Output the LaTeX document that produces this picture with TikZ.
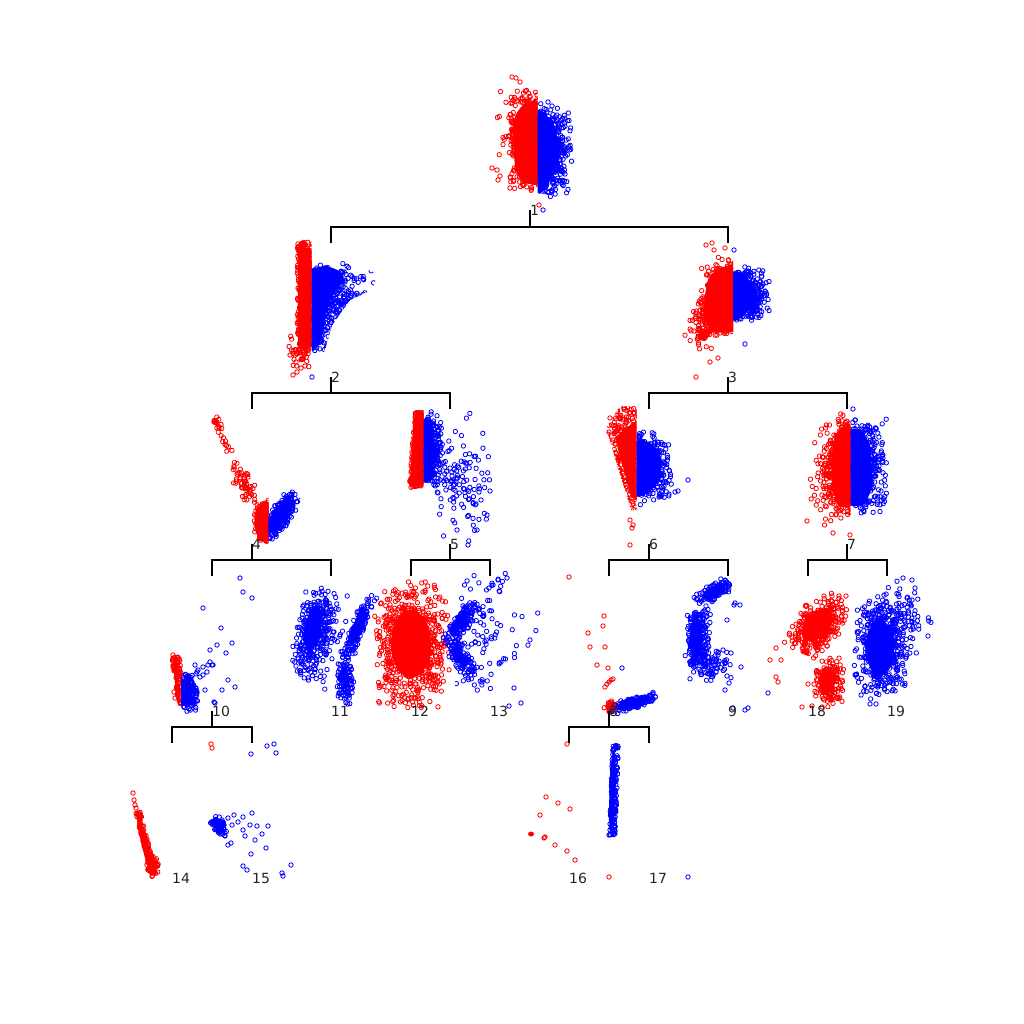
\documentclass[tikz,border=0pt]{standalone}
\usepackage{fontspec}
\setmainfont{DejaVu Sans}
% marker = 2-arc circle of radius 2.2 drawn to the right of the random point
\def\mkpath{.. controls +(0,2.93) and +(0,2.93) .. ++(4.4,0) .. controls +(0,-2.93) and +(0,-2.93) .. ++(-4.4,0)}
% gaussian cloud: [rotation]{colour}{cx}{cy}{sx}{sy}{N}
\newcommand\gcl[7][0]{\begin{scope}[shift={(#3,#4)},rotate=#1]\pgfmathtruncatemacro\nch{ceil(#7/40)}\foreach \j in {1,...,\nch}{\draw[#2,mk] foreach \i in {1,...,40}{({#5*(rand+rand+rand)-2.2},{#6*(rand+rand+rand)}) \mkpath};}\end{scope}}
% triangular cloud: half ranges
\newcommand\tcl[7][0]{\begin{scope}[shift={(#3,#4)},rotate=#1]\pgfmathtruncatemacro\nch{ceil(#7/40)}\foreach \j in {1,...,\nch}{\draw[#2,mk] foreach \i in {1,...,40}{({#5*(rand+rand)/2-2.2},{#6*(rand+rand)/2}) \mkpath};}\end{scope}}
% folded triangular cloud (dense at the split line x=cx, extends by sx, sign gives side)
\newcommand\fcl[7][0]{\begin{scope}[shift={(#3,#4)},rotate=#1]\pgfmathtruncatemacro\nch{ceil(#7/40)}\foreach \j in {1,...,\nch}{\draw[#2,mk] foreach \i in {1,...,40}{({#5*abs(rand+rand)/2-2.2},{#6*(rand+rand)/2}) \mkpath};}\end{scope}}
\newcommand\ucl[7][0]{\begin{scope}[shift={(#3,#4)},rotate=#1]\pgfmathtruncatemacro\nch{ceil(#7/40)}\foreach \j in {1,...,\nch}{\draw[#2,mk] foreach \i in {1,...,40}{({#5*rand-2.2},{#6*rand}) \mkpath};}\end{scope}}
\newcommand\pts[2]{\draw[#1,mk] foreach \px/\py in {#2}{(\px,\py) circle[radius=2.2pt]};}
\newcommand\core[6][0]{\fill[#2,rotate around={#1:(#3,#4)}] (#3,#4) ellipse[x radius=#5pt,y radius=#6pt];}
\tikzset{mk/.style={line width=0.8pt},
 br/.style={line width=1.2pt,black},
 brt/.style={line width=2.4pt,black},
 lab/.style={anchor=west,inner sep=0pt,font=\fontsize{14}{16}\selectfont,text=black!85}}
\begin{document}
\begin{tikzpicture}[x=1pt,y=-1pt]
\pgfmathsetseed{4711}
\fill[white] (0,0) rectangle (1024,1024);
\useasboundingbox (0,0) rectangle (1024,1024);
% ---------- node 1
\begin{scope}\clip (480,60) rectangle (537.5,220);
\fill[red,rounded corners=4pt] (538,100) -- (524,103) -- (515,115) -- (513,140) -- (515,168) -- (521,182) -- (538,186) -- cycle;
\fcl{red}{539.7}{142}{-34}{52}{450}
\gcl{red}{522}{130}{10}{22}{60}
\pts{red}{512/77, 516/78, 520/82, 497/170, 492/168, 500/176, 498/180, 510/188}
\end{scope}
\begin{scope}\clip (537.5,60) rectangle (600,220);
\fill[blue,rounded corners=4pt] (537,108) -- (548,116) -- (557,135) -- (560,155) -- (553,176) -- (543,192) -- (537,195) -- cycle;
\fcl{blue}{539.7}{152}{33}{50}{420}
\end{scope}
\pts{blue}{543/210, 548/102, 552/106}
\pts{red}{539/205}
% ---------- node 2
\begin{scope}\clip (280,230) rectangle (311.5,385);
\fill[red,rounded corners=3pt] (298,248) -- (312,248) -- (312,348) -- (298,348) -- cycle;
\ucl{red}{305.2}{296}{8}{54}{260}
\gcl{red}{301}{352}{5}{9}{25}
\end{scope}
\pts{red}{293/375, 297/372, 301/368, 296/362, 305/366, 290/355}
\begin{scope}\clip (311.5,258) -- (350,262) -- (378,274) -- (372,290) -- (350,300) -- (332,325) -- (322,360) -- (311.5,360) -- cycle;
\fill[blue,rounded corners=4pt] (310,268) -- (328,266) -- (342,272) -- (345,280) -- (334,292) -- (326,312) -- (322,338) -- (316,350) -- (310,352) -- cycle;
\fcl{blue}{313.7}{308}{62}{50}{420}
\end{scope}
\pts{blue}{312/377}
% ---------- node 3
\begin{scope}\clip (680,230) rectangle (733,385);
\fill[red,rounded corners=4pt] (734,265) -- (718,268) -- (708,278) -- (704,300) -- (705,320) -- (712,333) -- (734,332) -- cycle;
\fcl{red}{735.2}{298}{-38}{42}{420}
\gcl{red}{704}{330}{8}{9}{50}
\end{scope}
\pts{red}{696/377, 710/362, 718/358, 706/245, 712/243, 714/250, 725/248}
\begin{scope}\clip (733,230) rectangle (790,385);
\fill[blue,rounded corners=4pt] (732,270) -- (744,274) -- (756,288) -- (758,300) -- (748,311) -- (739,320) -- (732,322) -- cycle;
\fcl{blue}{735.2}{294}{35}{28}{300}
\end{scope}
\pts{blue}{745/344, 734/250}
% ---------- node 4
\ucl[-66]{red}{232}{456}{48}{3}{30}
\gcl[-66]{red}{245}{487}{10}{4}{35}
\begin{scope}\clip (240,480) rectangle (268.5,550);
\fill[red,rounded corners=3pt] (256,507) -- (269,501) -- (269,540) -- (259,542) -- (254,525) -- cycle;
\fcl{red}{270.7}{521}{-18}{22}{200}
\end{scope}
\begin{scope}\clip (268.5,480) rectangle (300,550);
\core[58]{blue}{280}{515}{16}{6}
\tcl[58]{blue}{281}{515}{28}{11}{250}
\end{scope}
% ---------- node 5
\begin{scope}\clip (400,400) rectangle (423.5,500);
\fill[red,rounded corners=2pt] (414,416) -- (424,414) -- (424,485) -- (412,487) -- (410,480) -- cycle;
\ucl[-4]{red}{418}{450}{6}{38}{220}
\end{scope}
\begin{scope}\clip (423.5,405) rectangle (500,550);
\fill[blue,rounded corners=3pt] (423,418) -- (433,420) -- (435,478) -- (423,484) -- cycle;
\fcl{blue}{425.7}{450}{18}{40}{220}
\gcl{blue}{458}{478}{15}{24}{110}
\end{scope}
\pts{blue}{468/545, 487/515, 490/491, 477/530, 457/530, 481/500}
% ---------- node 6
\begin{scope}\clip (606,428) -- (620,406) -- (636.5,406) -- (636.5,510) -- (631,510) -- cycle;
\fill[red] (615,437) -- (637,420) -- (637,500) -- (631,497) -- cycle;
\ucl{red}{623}{458}{16}{52}{280}
\end{scope}
\pts{red}{630/520, 633/525, 632/528, 630/545, 610/418, 609/432, 628/490}
\begin{scope}\clip (636.5,400) rectangle (700,520);
\fill[blue,rounded corners=4pt] (635,440) -- (652,443) -- (662,458) -- (660,480) -- (648,494) -- (635,498) -- cycle;
\fcl{blue}{638.7}{468}{38}{37}{280}
\end{scope}
\pts{blue}{688/480, 675/492, 678/491, 659/497, 662/495}
% ---------- node 7
\begin{scope}\clip (795,400) rectangle (850.5,540);
\fill[red,rounded corners=4pt] (851,424) -- (840,427) -- (833,442) -- (832,488) -- (838,507) -- (851,507) -- cycle;
\fcl{red}{852.7}{466}{-32}{54}{420}
\gcl{red}{830}{475}{9}{20}{50}
\end{scope}
\pts{red}{807/521, 833/533, 850/535}
\begin{scope}\clip (850.5,400) rectangle (900,540);
\fill[blue,rounded corners=4pt] (850,428) -- (862,430) -- (871,447) -- (872,488) -- (865,505) -- (850,507) -- cycle;
\fcl{blue}{852.7}{468}{36}{50}{400}
\end{scope}
\pts{blue}{853/409, 855/420}
% ---------- node 10
\fill[red] (173,663) -- (177,661) -- (180,700) -- (177,703) -- cycle;
\ucl[8]{red}{179}{681}{4}{24}{80}
\pts{red}{173/655, 174/659, 175/663, 174/692, 175/698}
\begin{scope}\clip (181,640) rectangle (230,720);
\fill[blue,rounded corners=3pt] (180,682) -- (189,678) -- (193,690) -- (190,705) -- (180,706) -- cycle;
\fcl{blue}{183.2}{692}{16}{20}{160}
\end{scope}
\pts{blue}{240/578, 243/592, 252/598, 203/608, 221/628, 217/645, 232/643, 210/650, 226/653, 210/662, 208/665, 212/665, 203/667, 198/670, 195/665, 205/690, 197/672, 200/677, 213/665, 228/680, 235/687, 222/690, 215/703, 214/702, 192/682, 196/688, 203/675, 207/672}
% ---------- node 11
\core[-10]{blue}{313}{628}{8}{23}
\tcl[-10]{blue}{314}{632}{20}{50}{300}
\core[-22]{blue}{357}{624}{3}{19}
\tcl[-22]{blue}{359}{626}{8}{38}{130}
\tcl{blue}{345}{680}{9}{26}{90}
\gcl{blue}{333}{635}{12}{24}{40}
% ---------- node 12
\core{red}{411}{644}{20}{34}
\tcl{red}{413}{645}{40}{65}{800}
% ---------- node 13
\core[-35]{blue}{459}{622}{4}{12}
\core[35]{blue}{459}{657}{4}{12}
\tcl[-35]{blue}{461}{622}{10}{25}{110}
\tcl[35]{blue}{461}{657}{10}{25}{110}
\begin{scope}\clip (455,570) rectangle (540,720);
\gcl{blue}{482}{635}{20}{30}{120}
\end{scope}
\pts{blue}{498/580, 493/585, 489/588, 507/578, 509/706, 521/703, 514/688, 530/640}
% ---------- node 9
\core{blue}{696}{638}{6}{21}
\core[30]{blue}{712}{592}{12}{4}
\tcl{blue}{699}{640}{13}{40}{200}
\tcl[30]{blue}{714}{592}{22}{9}{100}
\gcl{blue}{710}{664}{10}{8}{60}
\pts{blue}{734/605, 735/603, 727/620, 740/605, 731/653, 727/676, 733/708, 748/708, 745/710, 768/693, 741/667, 725/690, 729/683, 723/650, 718/655}
% ---------- node 8
\pts{red}{569/577, 604/616, 603/626, 588/633, 590/647, 605/647, 597/665, 608/668, 607/684, 609/682, 611/680, 613/679, 605/687}
\core{red}{610}{706}{5}{4}
\gcl{red}{612}{706}{3.5}{3}{40}
\core[18]{blue}{633}{702}{12}{3}
\gcl[18]{blue}{635}{702}{9}{2.5}{130}
\pts{blue}{622/668, 626/711}
% ---------- node 18
\core[50]{red}{817}{625}{19}{12}
\tcl[50]{red}{819}{625}{36}{24}{330}
\core{red}{827}{681}{8}{12}
\tcl{red}{829}{682}{17}{25}{160}
\pts{red}{770/660, 776/677, 778/682, 776/648, 781/660, 802/707, 812/706, 822/707, 808/684, 832/596, 839/596, 846/596}
% ---------- node 19
\core{blue}{880}{648}{14}{28}
\tcl{blue}{882}{647}{30}{55}{520}
\gcl{blue}{900}{620}{14}{18}{60}
\pts{blue}{928/636, 912/580, 903/578, 915/588, 912/600, 870/704, 876/704}
% ---------- node 14
\core[-76]{red}{145}{848}{29}{2.5}
\ucl[-76]{red}{146}{844}{33}{2.5}{120}
\gcl{red}{152}{866}{2.5}{5}{30}
\pts{red}{133/793, 134/800, 135/805, 136/808, 211/744, 212/748}
% ---------- node 15
\core[-45]{blue}{217}{826}{6}{3}
\gcl[-45]{blue}{219}{826}{5}{2.5}{50}
\pts{blue}{222/820, 228/818, 232/825, 238/822, 245/836, 250/825, 257/826, 255/840, 262/834, 266/848, 268/826, 247/870, 251/854, 225/836, 228/845, 252/813, 243/817, 234/815, 282/873, 283/876, 291/865, 243/866, 251/754, 267/746, 274/744, 276/753, 231/843, 243/830}
% ---------- node 16
\pts{red}{567/744, 546/797, 558/803, 570/809, 540/815, 544/838, 545/837, 555/845, 567/851, 575/860, 609/877}
\core{red}{531}{834}{3}{2.5}
% ---------- node 17
\core[-2]{blue}{612}{790}{2.5}{40}
\ucl[-2]{blue}{614}{790}{3}{45}{140}
\pts{blue}{688/877, 609/835, 610/830}
% ---------- tree coordinates and labels
\coordinate (s1) at (530,210);
\coordinate (s2) at (331,377); \coordinate (s3) at (728,377);
\coordinate (s4) at (252,544); \coordinate (s5) at (450,544);
\coordinate (s6) at (649,544); \coordinate (s7) at (847,544);
\coordinate (s10) at (212,711); \coordinate (s11) at (331,711);
\coordinate (s12) at (411,711); \coordinate (s13) at (490,711);
\coordinate (s8) at (609,711); \coordinate (s9) at (728,711);
\coordinate (s18) at (808,711); \coordinate (s19) at (887,711);
\coordinate (s14) at (172,878); \coordinate (s15) at (252,878);
\coordinate (s16) at (569,878); \coordinate (s17) at (649,878);
% brackets
\draw[br] (s1) -- ++(0,17) coordinate (j1);
\draw[br] (s2|-j1) ++(0,16) -- (s2|-j1) -- (s3|-j1) -- ++(0,16);
\draw[br] (s2) -- ++(0,16) coordinate (j2);
\draw[br] (s4|-j2) ++(0,16) -- (s4|-j2) -- (s5|-j2) -- ++(0,16);
\draw[br] (s3) -- ++(0,16) coordinate (j3);
\draw[br] (s6|-j3) ++(0,16) -- (s6|-j3) -- (s7|-j3) -- ++(0,16);
\draw[br] (s4) -- ++(0,16) coordinate (j4);
\draw[br] (s10|-j4) ++(0,16) -- (s10|-j4) -- (s11|-j4) -- ++(0,16);
\draw[br] (s5) -- ++(0,16) coordinate (j5);
\draw[br] (s12|-j5) ++(0,16) -- (s12|-j5) -- (s13|-j5) -- ++(0,16);
\draw[br] (s6) -- ++(0,16) coordinate (j6);
\draw[br] (s8|-j6) ++(0,16) -- (s8|-j6) -- (s9|-j6) -- ++(0,16);
\draw[br] (s7) -- ++(0,16) coordinate (j7);
\draw[br] (s18|-j7) ++(0,16) -- (s18|-j7) -- (s19|-j7) -- ++(0,16);
\draw[br] (s10) -- ++(0,16) coordinate (j10);
\draw[br] (s14|-j10) ++(0,16) -- (s14|-j10) -- (s15|-j10) -- ++(0,16);
\draw[br] (s8) -- ++(0,16) coordinate (j8);
\draw[br] (s16|-j8) ++(0,16) -- (s16|-j8) -- (s17|-j8) -- ++(0,16);
% thicker segments
\draw[brt] (s1) -- (j1);
\draw[brt] (s4|-j2) -- ++(0,16);
\draw[brt] (s4) -- (j4);
\draw[brt] (s12|-j5) -- ++(0,16);
\draw[brt] (s6) -- (j6);
\draw[brt] (s18|-j7) -- ++(0,16);
\draw[brt] (s15|-j10) -- ++(0,16);
\draw[brt] (s17|-j8) -- ++(0,16);
% labels
\foreach \k in {1,2,3,4,5,6,7,8,9,10,11,12,13,14,15,16,17,18,19}
  \node[lab] (n\k) at (s\k) {\k};
\end{tikzpicture}
\end{document}
